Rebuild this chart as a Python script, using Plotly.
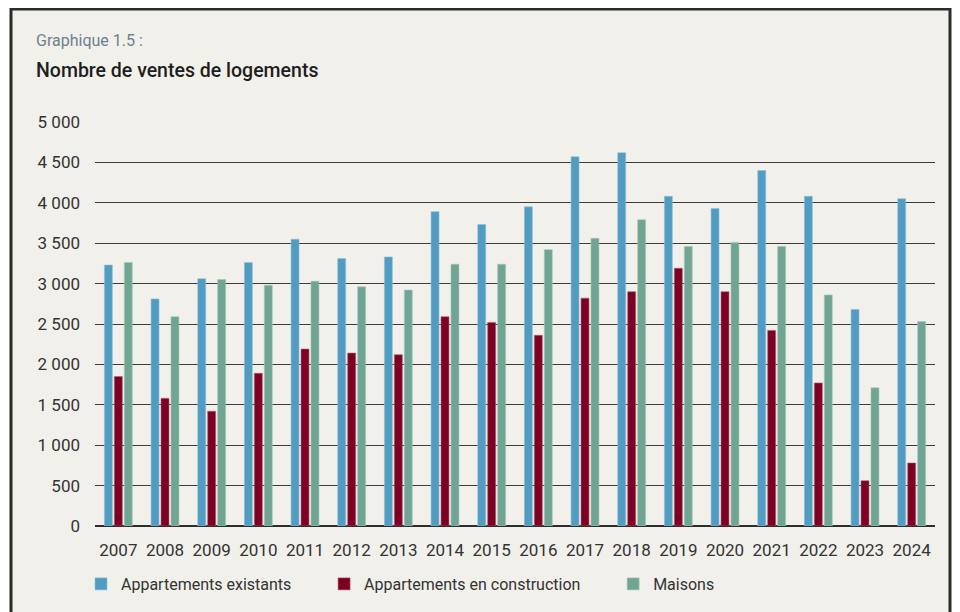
import plotly.graph_objects as go

years = [str(y) for y in range(2007, 2025)]
existants = [3230, 2810, 3060, 3260, 3550, 3310, 3330, 3890, 3730, 3950,
             4570, 4620, 4080, 3930, 4400, 4080, 2680, 4050]
construction = [1850, 1580, 1420, 1890, 2190, 2140, 2120, 2590, 2520, 2360,
                2820, 2900, 3190, 2900, 2420, 1770, 560, 780]
maisons = [3260, 2590, 3050, 2980, 3030, 2960, 2920, 3240, 3240, 3420,
           3560, 3790, 3460, 3510, 3460, 2860, 1710, 2530]
y_ticks = [0, 500, 1000, 1500, 2000, 2500, 3000, 3500, 4000, 4500, 5000]
y_labels = ["0", "500", "1 000", "1 500", "2 000", "2 500", "3 000",
            "3 500", "4 000", "4 500", "5 000"]

BG = "#f1f0ea"
FONT = "Roboto"

# the page body has an 8px margin, so the figure is drawn 8px in from the corner
OFF = 8
W, H = 960 - OFF, 612 - OFF
# plot area on the page: x 95..935, y 122..526
L, R, T, B = 95 - OFF, 960 - 935, 122 - OFF, 612 - 526
pw, ph = W - L - R, H - T - B


def px_x(p):
    return (p - OFF - L) / pw


def px_y(p):
    return (H - B - (p - OFF)) / ph


PAD = "\u00a0" * 7

fig = go.Figure()
series = [
    ("Appartements existants", existants, "#519cc0", "#8fc0d8"),
    ("Appartements en construction", construction, "#7d0024", "#b0606f"),
    ("Maisons", maisons, "#6fa592", "#a6c8bb"),
]
for name, vals, col, edge in series:
    fig.add_trace(go.Bar(x=years, y=vals, name=name + PAD,
                         marker=dict(color=col, line=dict(color=edge, width=0.6))))

fig.update_layout(
    width=W, height=H,
    margin=dict(l=L, r=R, t=T, b=B, autoexpand=False),
    paper_bgcolor="white",
    plot_bgcolor="rgba(0,0,0,0)",
    barmode="group",
    bargap=0.36,
    bargroupgap=0.2,
    font=dict(family=FONT, size=17, color="#333333"),
    showlegend=True,
    legend=dict(orientation="h", x=px_x(81), xanchor="left",
                y=px_y(567), yanchor="top",
                font=dict(size=16, color="#333333"),
                bgcolor="rgba(0,0,0,0)", itemwidth=30),
    xaxis=dict(showgrid=False, showline=False, zeroline=False,
               ticks="", ticklabelstandoff=12,
               tickfont=dict(size=17, color="#333333")),
    yaxis=dict(range=[0, 5000], tickvals=y_ticks, ticktext=y_labels,
               showgrid=True, gridcolor="#3c3c3c", gridwidth=1,
               zeroline=True, zerolinecolor="#2e2e2e", zerolinewidth=1.5,
               showline=False, ticks="", ticklabelstandoff=14,
               tickfont=dict(size=17, color="#333333")),
    shapes=[dict(type="rect", xref="paper", yref="paper",
                 x0=px_x(11), x1=px_x(950), y0=px_y(640), y1=px_y(9),
                 fillcolor=BG, line=dict(color="#2b2b2b", width=3),
                 layer="below")],
    annotations=[
        dict(text="Graphique 1.5 :", xref="paper", yref="paper",
             x=px_x(34), y=px_y(40), xanchor="left", yanchor="middle",
             showarrow=False, font=dict(size=16, color="#6d8191", family=FONT)),
        dict(text="Nombre de ventes de logements", xref="paper", yref="paper",
             x=px_x(34), y=px_y(70), xanchor="left", yanchor="middle",
             showarrow=False,
             font=dict(size=19.5, color="#1e1e1e", family=FONT, weight=500)),
    ],
)

fig.write_html("out.html")
